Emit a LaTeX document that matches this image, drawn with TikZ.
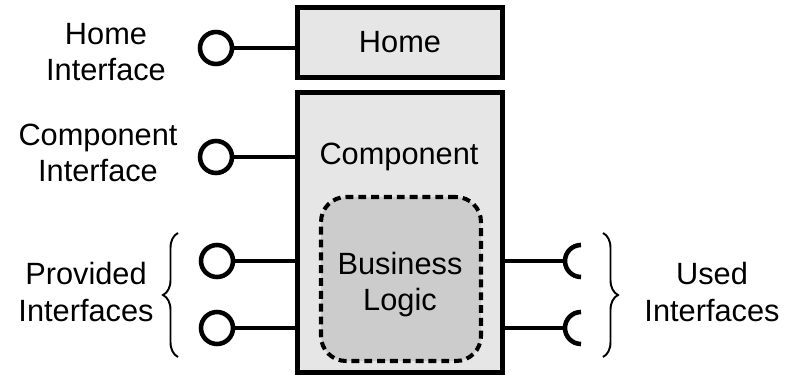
\documentclass[tikz,border=0pt]{standalone}
\usepackage{fontspec}
\setmainfont{Liberation Sans}
\definecolor{boxgray}{RGB}{230, 230, 230}
\definecolor{logicgray}{RGB}{204, 204, 204}
\usetikzlibrary{positioning, calc, decorations.pathreplacing}

\begin{document}
\begin{tikzpicture}[
  font=\fontsize{17.5}{20.5}\selectfont,
  part/.style={draw, line width=2.8pt, fill=boxgray, minimum width=4.1cm, inner sep=0pt},
  lol/.style={circle, draw, line width=2.6pt, fill=white, minimum size=0.64cm, inner sep=0pt},
  wire/.style={line width=2.2pt},
  brc/.style={decorate, decoration={brace, amplitude=0.3cm}, line width=1.1pt},
  lbl/.style={align=center},
]
  \useasboundingbox (0,0) rectangle (15.7,7.56);
  % Parts
  \node[part, minimum height=1.4cm] (home) at (8.0,6.71) {Home};
  \node[part, minimum height=5.6cm] (comp) at (8.0,2.91) {};
  \node (comptxt) at (7.98,4.42) {Component};
  \node[draw, dash pattern=on 4.5pt off 2.8pt, line width=2.3pt, fill=logicgray,
        rounded corners=0.5cm, minimum width=3.2cm, minimum height=3.28cm] (logic) at (8.02,1.98) {};
  \node[lbl] (logictxt) at (8.0,1.86) {Business\\Logic};
  % Provided interfaces
  \node[lol] (hi) at (4.32,6.6)  {};
  \node[lol] (ci) at (4.32,4.42) {};
  \node[lol] (p1) at (4.34,2.34) {};
  \node[lol] (p2) at (4.34,1.0)  {};
  \draw[wire] (hi) -- (hi -| home.west);
  \draw[wire] (ci) -- (ci -| comp.west);
  \draw[wire] (p1) -- (p1 -| comp.west);
  \draw[wire] (p2) -- (p2 -| comp.west);
  % Used interfaces
  \coordinate (u1) at (11.3,2.34);
  \coordinate (u2) at (11.3,1.0);
  \draw[wire] (comp.east |- u1) -- (u1);
  \draw[wire] (comp.east |- u2) -- (u2);
  \draw[line width=2.6pt] (u1) ++(0.32,0.32) arc[start angle=90, end angle=270, radius=0.32];
  \draw[line width=2.6pt] (u2) ++(0.32,0.32) arc[start angle=90, end angle=270, radius=0.32];
  % Braces
  \coordinate (pb) at (3.56,0.42);
  \coordinate (pt) at (3.56,2.9);
  \coordinate (ut) at (12.06,2.9);
  \coordinate (ub) at (12.06,0.42);
  \draw[brc] (pb) -- (pt);
  \draw[brc] (ut) -- (ub);
  % Labels
  \node[lbl] (hil) at (2.12,6.52) {Home\\Interface};
  \node[lbl] (cil) at (1.96,4.5)  {Component\\Interface};
  \node[lbl] (pil) at (1.72,1.72) {Provided\\Interfaces};
  \node[lbl] (uil) at (14.24,1.72) {Used\\Interfaces};
\end{tikzpicture}
\end{document}
